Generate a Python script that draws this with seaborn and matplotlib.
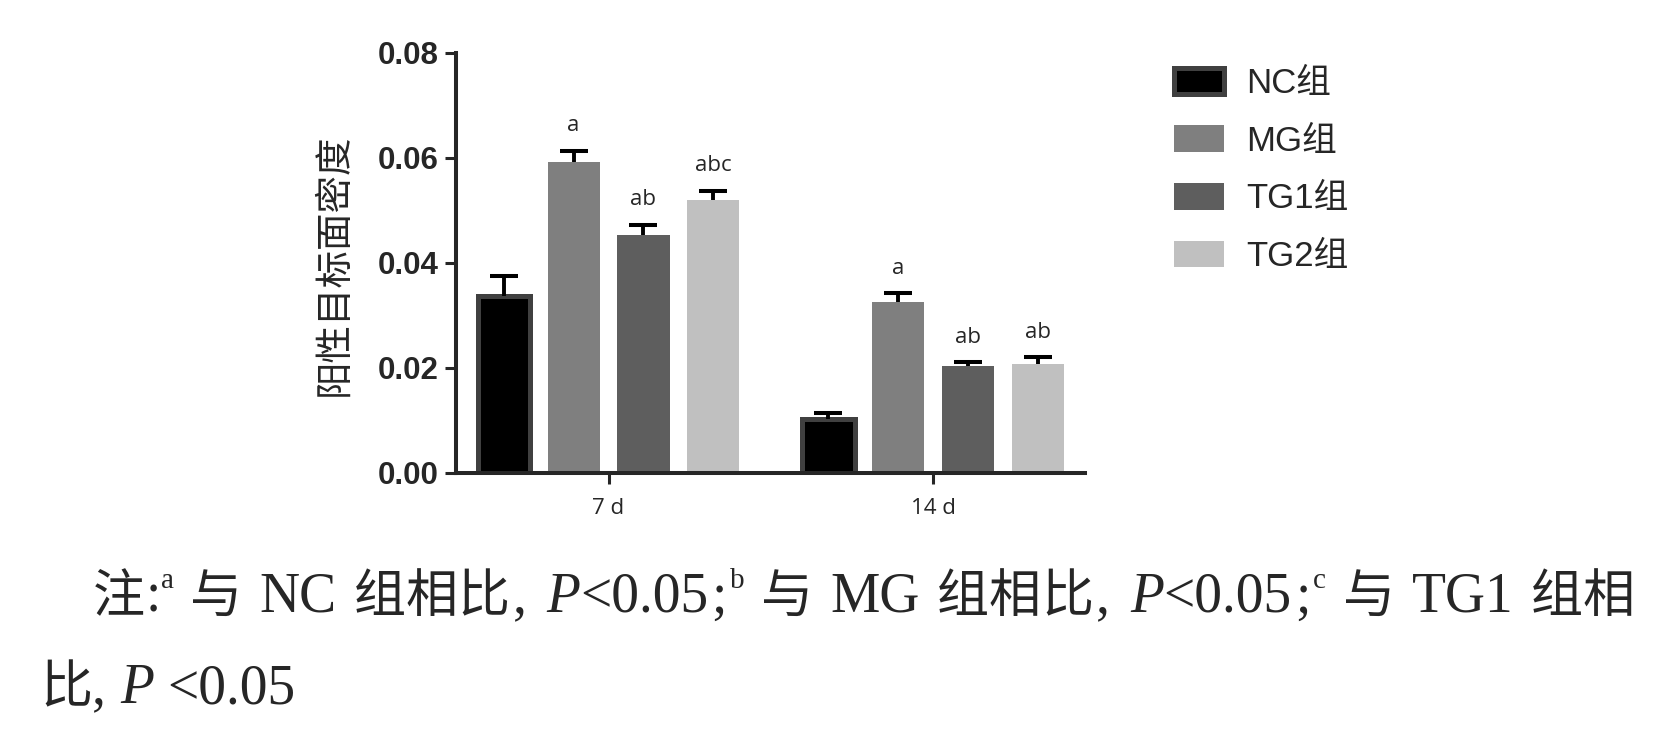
import re
import matplotlib
matplotlib.use("Agg")
import pandas as pd
import seaborn as sns
import matplotlib.pyplot as plt

# data
times = ["7 d", "14 d"]
groups = ["NC组", "MG组", "TG1组", "TG2组"]
mean_7d = [0.0337, 0.0591, 0.0453, 0.0519]
sd_7d = [0.0038, 0.0022, 0.0019, 0.0018]
mean_14d = [0.0102, 0.0325, 0.0204, 0.0207]
sd_14d = [0.0011, 0.0017, 0.0006, 0.0013]
marks_7d = ["", "a", "ab", "abc"]
marks_14d = ["", "a", "ab", "ab"]
colors = ["#000000", "#7f7f7f", "#5e5e5e", "#c0c0c0"]
y_ticks = [0.00, 0.02, 0.04, 0.06, 0.08]
y_label = "阳性目标面密度"

means = [mean_7d, mean_14d]
sds = [sd_7d, sd_14d]
marks = [marks_7d, marks_14d]

rows = []
for gi, g in enumerate(groups):
    for ti, t in enumerate(times):
        rows.append({"time": t, "group": g, "value": means[ti][gi]})
df = pd.DataFrame(rows)

sns.set_style("ticks")
plt.rcParams["font.family"] = ["Liberation Sans", "Noto Sans CJK SC", "DejaVu Sans"]

W, H = 1669, 737
fig = plt.figure(figsize=(W / 100, H / 100), dpi=100)
ax = fig.add_axes([455.7 / W, 1 - 472.7 / H, (1085 - 455.7) / W, (472.7 - 52.7) / H])

sns.barplot(data=df, x="time", y="value", hue="group", order=times, hue_order=groups,
            palette=colors, saturation=1, width=0.86, gap=0.25, errorbar=None,
            legend=False, ax=ax)

bar_conts = list(ax.containers)
for gi, cont in enumerate(bar_conts):
    for ti, bar in enumerate(cont):
        if gi == 0:
            bar.set_edgecolor("#404040")
            bar.set_linewidth(3.6)
        else:
            bar.set_linewidth(0)
        xc = bar.get_x() + bar.get_width() / 2
        m = means[ti][gi]
        s = sds[ti][gi]
        # upper error bar only: stem + single cap
        ax.vlines(xc, m, m + s, color="black", lw=2.8, zorder=5)
        ax.plot([xc], [m + s], marker="_", ms=19.5, mew=2.9, color="black", zorder=5)
        if marks[ti][gi]:
            ax.annotate(marks[ti][gi], (xc, m + s), xytext=(0, 14),
                        textcoords="offset points", ha="center", va="baseline",
                        fontsize=16, family=["Open Sans", "DejaVu Sans"])

ax.set_xlim(-0.471, 1.468)
ax.set_ylim(0, 0.08)
ax.set_yticks(y_ticks)
ax.set_yticklabels([f"{v:.2f}" for v in y_ticks], fontsize=22.5, fontweight="bold")
for lab in ax.get_xticklabels():
    lab.set_family(["Open Sans", "DejaVu Sans"])
ax.tick_params(axis="x", labelsize=16, length=8, width=2.2, pad=10)
ax.tick_params(axis="y", length=8, width=2.2, pad=4)
ax.set_xlabel("")
ax.set_ylabel(y_label, fontsize=27, va="center")
ax.yaxis.set_label_coords(-0.193, 0.4945)
sns.despine(ax=ax)
for sp in ["left", "bottom"]:
    ax.spines[sp].set_linewidth(2.9)

ax.legend(bar_conts, groups, loc="upper left",
          bbox_to_anchor=(1174 / W, 1 - 67 / H), bbox_transform=fig.transFigure,
          frameon=False, fontsize=25, handlelength=1.44, handleheight=0.8,
          labelspacing=0.71, handletextpad=0.65, borderpad=0, borderaxespad=0)

# caption below the chart, drawn token by token
serif = ["Liberation Serif", "Noto Sans CJK SC", "DejaVu Sans"]
fs_cjk = 37.5
fs_lat = 40
fs_sup = 21
line1 = [("注:", "n"), ("a", "sup"), (" 与 NC 组相比, ", "n"), ("P", "i"),
         ("<0.05;", "n"), ("b", "sup"), (" 与 MG 组相比, ", "n"), ("P", "i"),
         ("<0.05;", "n"), ("c", "sup"), (" 与 TG1 组相", "n")]
line2 = [("比, ", "n"), ("P", "i"), (" <0.05", "n")]

renderer = fig.canvas.get_renderer()
space_px = 0.25 * fs_lat * 100 / 72


def draw_line(runs, x0, base, end=None):
    # items: (text artist or None, width, stretchable gap after it)
    items = []
    x = x0
    for txt, style in runs:
        for tok in re.findall(r"[A-Za-z0-9.<]+|.", txt):
            if tok == " ":
                items.append((None, space_px, True))
                x += space_px
                continue
            kw = {"fontsize": fs_lat}
            rise = 0
            if style == "sup":
                kw["fontsize"] = fs_sup
                rise = 24
            elif style == "i":
                kw["style"] = "italic"
            elif ord(tok[0]) > 0x2E80:
                kw["fontsize"] = fs_cjk
            punct = tok in ",;"
            if punct:
                items.append((None, 0, True))
            t = fig.text(x / W, 1 - (base - rise) / H, tok, family=serif,
                         va="baseline", ha="left", **kw)
            w = t.get_window_extent(renderer).width
            items.append((t, w, punct))
            x += w
    if end is not None:
        n = sum(1 for it in items if it[2])
        extra = (end - x) / n
        x = x0
        for t, w, stretch in items:
            if t is not None:
                t.set_x(x / W)
            x += w + (extra if stretch else 0)


draw_line(line1, 93, 612, end=1635)
draw_line(line2, 40, 703)

fig.savefig("out.png", dpi=100)
